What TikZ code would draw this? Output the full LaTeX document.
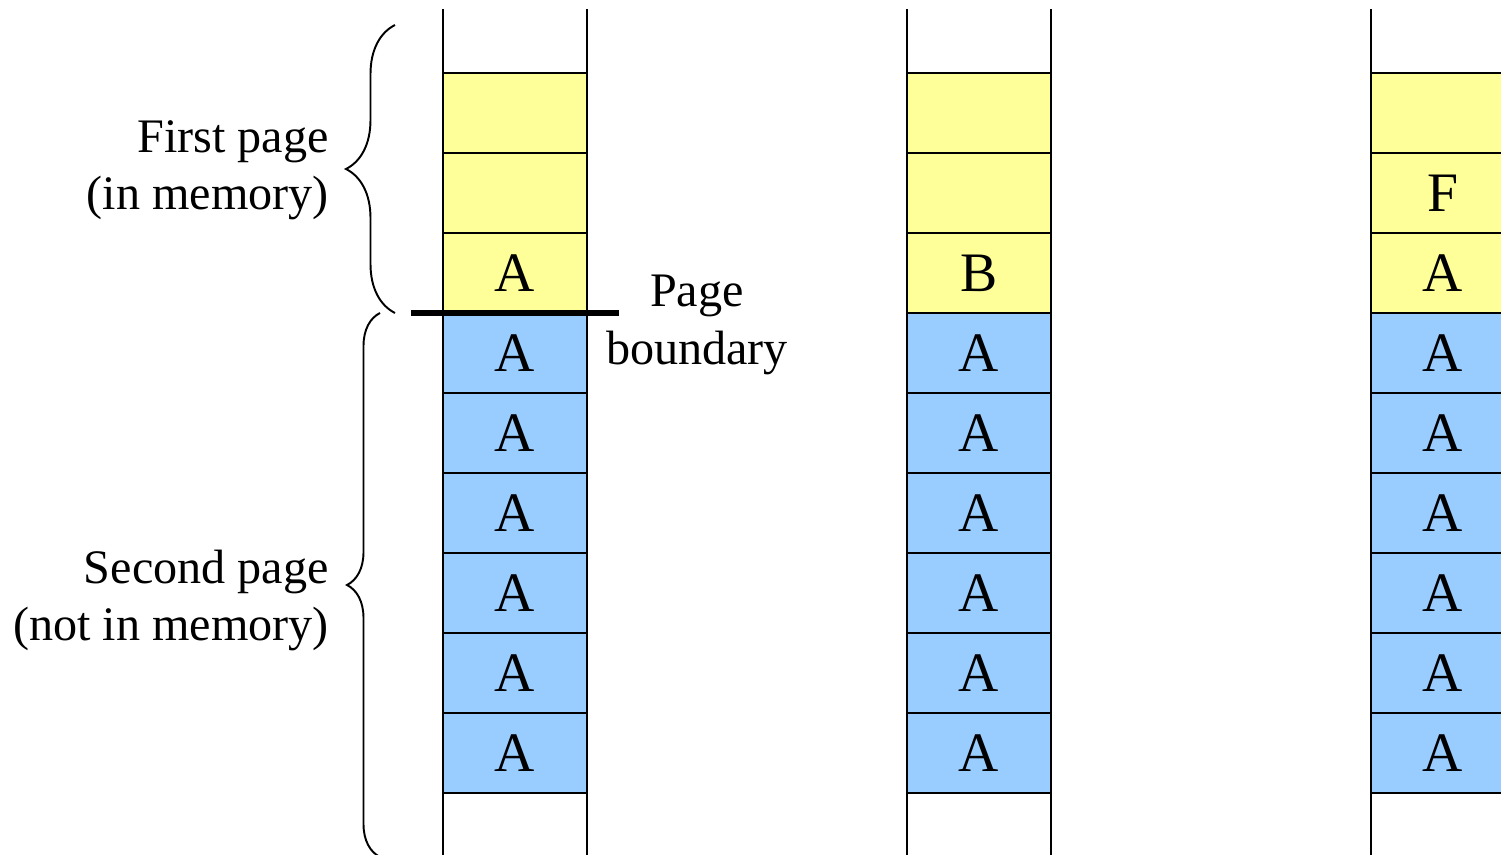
\documentclass[tikz,border=0pt]{standalone}
\usepackage{fontspec}
\setmainfont{Liberation Serif}
\usetikzlibrary{decorations.pathreplacing}
\definecolor{memyel}{HTML}{FFFF99}
\definecolor{memblu}{HTML}{99CCFF}
\tikzset{%
    wal/.style={line width = 1.4pt},
    cel/.style={rectangle, draw, line width = 1.1pt, inner sep=0pt,
        minimum width=2.88cm, minimum height=1.6cm,
        font=\fontsize{31.7}{38}\selectfont},
    yel/.style={cel, fill=memyel},
    blu/.style={cel, fill=memblu},
    lab/.style={align=right, inner sep=0pt, font=\fontsize{27.4}{32.6}\selectfont},
    bnd/.style={line width = 3.2pt},
    brc/.style={line width = 1.1pt, decorate, decoration={brace, amplitude=#1}},
}

\begin{document}
\begin{tikzpicture}
    \clip (0,0) rectangle (30.02,-17.1);
    \useasboundingbox (0,0) rectangle (30.02,-17.1);
    % the three stacks
    \foreach \s/\x in {a/10.30, b/19.58, c/28.86} {
        \node[yel] (\s1) at (\x,-2.26) {};
        \foreach \r in {4,...,9}
            \node[blu] (\s\r) at (\x,{-0.66-1.6*\r}) {A};
    }
    \node[yel] (a2) at (10.30,-3.86) {};
    \node[yel] (a3) at (10.30,-5.46) {A};
    \node[yel] (b2) at (19.58,-3.86) {};
    \node[yel] (b3) at (19.58,-5.46) {B};
    \node[yel] (c2) at (28.86,-3.86) {F};
    \node[yel] (c3) at (28.86,-5.46) {A};
    \foreach \x in {8.86, 11.74, 18.14, 21.02, 27.42, 30.30}
        \draw[wal] (\x,-0.18) -- (\x,-17.2);
    % page boundary
    \coordinate (pb1) at (8.22,-6.26);
    \coordinate (pb2) at (12.38,-6.26);
    \draw[bnd] (pb1) -- (pb2);
    \node[lab, align=center] (pg) at (13.94,-6.50) {Page\\boundary};
    % braces and their labels
    \coordinate (br1) at (7.90,-6.26);
    \coordinate (br2) at (7.90,-0.50);
    \coordinate (br3) at (7.60,-17.14);
    \coordinate (br4) at (7.60,-6.26);
    \draw[brc=0.98cm] (br1) -- (br2);
    \draw[brc=0.66cm] (br3) -- (br4);
    \node[lab, anchor=east] (fp) at (6.58,-3.40) {First page\\(in memory)};
    \node[lab, anchor=east] (sp) at (6.58,-12.01) {Second page\\(not in memory)};
\end{tikzpicture}
\end{document}
